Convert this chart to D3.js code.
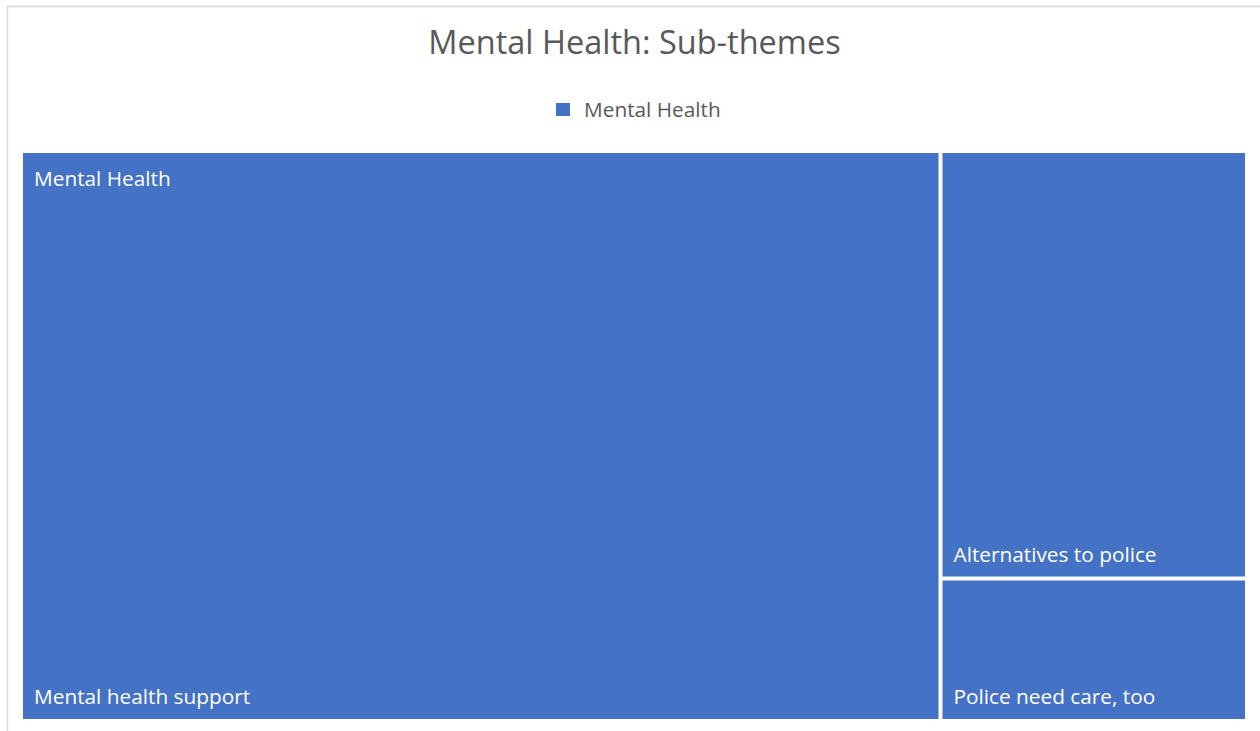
<!DOCTYPE html>
<html>
<head>
<meta charset="utf-8">
<script src="https://cdn.jsdelivr.net/npm/d3@7"></script>
<style>
  html, body { margin: 0; padding: 0; background: #fff; }
  svg { display: block; }
  text { font-family: "Open Sans", "Noto Sans", sans-serif; }
</style>
</head>
<body>
<svg id="chart" width="1260" height="731"></svg>
<script>
const chartTitle = "Mental Health: Sub-themes";
const groupName = "Mental Health";
const categories = ["Mental health support", "Alternatives to police", "Police need care, too"];
const values = [12, 3, 1];
const fillColor = "#4472C4";

const svg = d3.select("#chart");

// outer chart frame (extends past the window)
svg.append("rect")
  .attr("x", 7.5).attr("y", 6.5)
  .attr("width", 1400).attr("height", 900)
  .attr("fill", "#fff").attr("stroke", "#d9d9d9").attr("stroke-width", 1.5);

// title
svg.append("text")
  .attr("x", 634.5).attr("y", 54)
  .attr("text-anchor", "middle")
  .attr("font-size", 32.5)
  .attr("fill", "#595959")
  .text(chartTitle);

// legend
const legend = svg.append("g");
legend.append("rect")
  .attr("x", 556).attr("y", 103).attr("width", 14).attr("height", 13)
  .attr("fill", fillColor);
legend.append("text")
  .attr("x", 584).attr("y", 116.5)
  .attr("font-size", 20.8)
  .attr("fill", "#595959")
  .text(groupName);

// treemap
const x0 = 23, y0 = 153, W = 1222, H = 566;
const data = {
  name: "root",
  children: [{
    name: groupName,
    children: categories.map((c, i) => ({ name: c, value: values[i] }))
  }]
};
const root = d3.hierarchy(data).sum(d => d.value || 0)
  .sort((a, b) => b.value - a.value);
d3.treemap()
  .tile(d3.treemapSquarify)
  .size([W, H])
  .paddingInner(4)(root);

const g = svg.append("g").attr("transform", `translate(${x0},${y0})`);
const leaves = root.leaves();
const cell = g.selectAll("g.cell").data(leaves).join("g").attr("class", "cell");
cell.append("rect")
  .attr("x", d => d.x0)
  .attr("y", d => d.y0)
  .attr("width", d => d.x1 - d.x0)
  .attr("height", d => d.y1 - d.y0)
  .attr("fill", fillColor);
cell.append("text")
  .attr("x", d => d.x0 + 11)
  .attr("y", d => d.y1 - 15)
  .attr("font-size", 20.8)
  .attr("fill", "#fff")
  .text(d => d.data.name);

// parent label
const parent = root.children[0];
g.append("text")
  .attr("x", parent.x0 + 11)
  .attr("y", parent.y0 + 33)
  .attr("font-size", 20.8)
  .attr("fill", "#fff")
  .text(parent.data.name);
</script>
</body>
</html>
